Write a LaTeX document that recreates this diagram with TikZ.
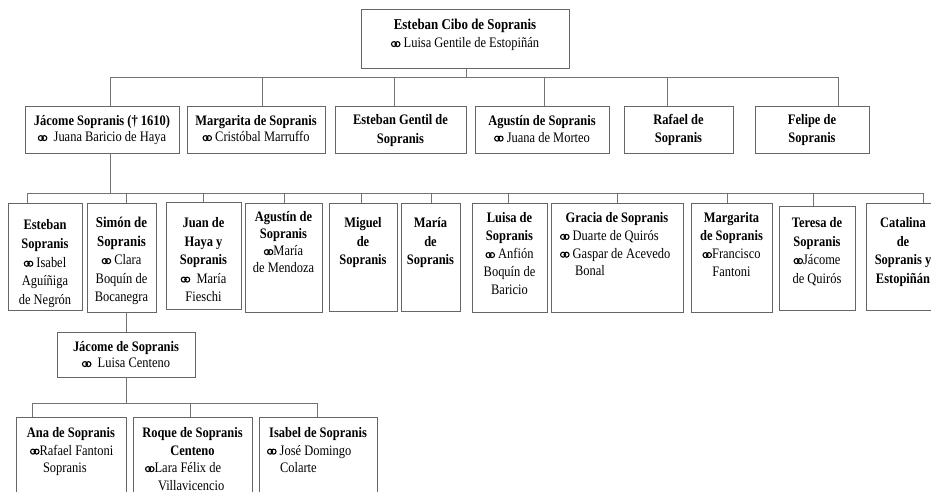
\documentclass[tikz,border=0pt]{standalone}
\usepackage{fontspec}
\setmainfont{Liberation Serif}[FakeStretch=0.86]
\newcommand\mar{\tikz[baseline=0pt]{\draw[black, line width=1.1pt] (2.6pt,3.4pt) circle[radius=2.5pt] (6.1pt,3.4pt) circle[radius=2.5pt];}}
\newcommand\lft[2]{\makebox[\linewidth][l]{\hspace{#1pt}#2}}
\newcommand\bx[8]{\node[bx] (#1) at ({(#2+#4)/2},{(#3+#5)/2}) {\parbox[c][\dimexpr#5pt-#3pt\relax][t]{\dimexpr#4pt-#2pt\relax}{\centering\fontsize{14.5}{#7}\selectfont\vspace*{\dimexpr#6pt-0.7\baselineskip\relax}\strut#8\par}};}
\newcommand\stem[3]{\coordinate (#1s) at ([xshift=#3pt]#1.north); \draw[con] (#1s) -- (#1s |- #2);}
\tikzset{
  bx/.style={draw=black!60, line width=0.8pt, inner sep=0pt, outer sep=0pt},
  con/.style={draw=black!55, line width=0.8pt}
}
\begin{document}
\begin{tikzpicture}[x=1pt,y=-1pt]
\useasboundingbox (0,0) rectangle (931,492);
\clip (0,0) rectangle (931,492);
\fill[white] (0,0) rectangle (931,492);
% level 1
\bx{top}{361}{9}{569}{68}{20.5}{18}{{\fontsize{15}{18}\selectfont\bfseries Esteban Cibo de Sopranis}\\\mar\ Luisa Gentile de Estopiñán}
% level 2
\bx{jac}{25}{106}{179}{153}{19.5}{16}{\textbf{Jácome Sopranis († 1610)}\\\mar\ \ Juana Baricio de Haya}
\bx{mar}{187}{106}{325}{153}{19.5}{16}{\textbf{Margarita de Sopranis}\\\mar\ Cristóbal Marruffo}
\bx{esg}{335}{106}{466}{153}{18.5}{18.5}{\textbf{Esteban Gentil de\\Sopranis}}
\bx{agu}{475}{106}{609}{153}{19.5}{16.5}{\textbf{Agustín de Sopranis}\\\mar\ Juana de Morteo}
\bx{raf}{624}{106}{733}{153}{18.5}{18}{\textbf{Rafael de\\Sopranis}}
\bx{fel}{755}{106}{869}{153}{18.5}{18}{\textbf{Felipe de\\Sopranis}}
% level 3
\bx{est}{8}{203}{82}{310}{26.5}{18.8}{\textbf{Esteban\\Sopranis}\\\mar\ Isabel\\Aguíñiga\\de Negrón}
\bx{sim}{87}{203}{156}{312}{24.5}{18.5}{{\fontsize{15}{18.5}\selectfont\bfseries Simón de\\Sopranis}\\\mar\ Clara\\Boquín de\\Bocanegra}
\bx{jua}{166}{202}{241}{309}{25.5}{18.5}{\textbf{Juan de\\Haya y\\Sopranis}\\\mar\ \ María\\Fieschi}
\bx{agd}{245}{203}{322}{312}{18.5}{17}{\textbf{Agustín de\\Sopranis}\\\mar María\\de Mendoza}
\bx{mig}{329}{203}{397}{311}{24.5}{18.5}{\textbf{Miguel\\de\\Sopranis}}
\bx{mri}{401}{203}{460}{311}{24.5}{18.5}{\textbf{María\\de\\Sopranis}}
\bx{lui}{472}{203}{547}{312}{19.5}{18}{\textbf{Luisa de\\Sopranis}\\\mar\ Anfión\\Boquín de\\Baricio}
\bx{gra}{551}{203}{683}{312}{19.5}{17.8}{\textbf{Gracia de Sopranis}\\\lft{9}{\mar\ Duarte de Quirós}\\\lft{9}{\mar\ Gaspar de Acevedo}\\\lft{24}{Bonal}}
\bx{mgs}{691}{203}{772}{312}{19.5}{18}{\textbf{Margarita\\de Sopranis}\\\mar Francisco\\Fantoni}
\bx{ter}{779}{206}{855}{310}{21.5}{18.5}{\textbf{Teresa de\\Sopranis}\\\mar Jácome\\de Quirós}
\bx{cat}{866}{203}{940}{310}{24.5}{18.5}{\textbf{Catalina\\de\\Sopranis y\\Estopiñán}}
% level 4
\bx{jcs}{57}{332}{195}{377}{19.5}{16}{\textbf{Jácome de Sopranis}\\\mar\ \ Luisa Centeno}
% level 5
\bx{ana}{16}{417}{126}{500}{20.5}{17.5}{\textbf{Ana de Sopranis}\\\lft{14}{\mar Rafael Fantoni}\\\lft{27}{Sopranis}}
\bx{roq}{133}{417}{252}{500}{20.5}{17.5}{\textbf{Roque de Sopranis\\Centeno}\\\lft{12}{\mar Lara Félix de}\\\lft{25}{Villavicencio}}
\bx{isa}{259}{417}{377}{500}{20.5}{17.5}{\textbf{Isabel de Sopranis}\\\lft{8}{\mar\ José Domingo}\\\lft{21}{Colarte}}
% buses
\coordinate (bus1) at (0,77);
\coordinate (bus2) at (0,193);
\coordinate (bus3) at (0,403);
% level 1 -> 2
\coordinate (topb) at ([xshift=1pt]top.south);
\draw[con] (topb) -- (topb |- bus1);
\stem{jac}{bus1}{8}
\stem{mar}{bus1}{6}
\stem{esg}{bus1}{-6.5}
\stem{agu}{bus1}{2}
\stem{raf}{bus1}{-11.5}
\stem{fel}{bus1}{26}
\draw[con] (jacs |- bus1) -- (fels |- bus1);
% level 2 -> 3
\coordinate (jacb) at ([xshift=8pt]jac.south);
\draw[con] (jacb) -- (jacb |- bus2);
\stem{est}{bus2}{-18}
\stem{sim}{bus2}{4.5}
\stem{jua}{bus2}{0}
\stem{agd}{bus2}{0.5}
\stem{mig}{bus2}{-2}
\stem{mri}{bus2}{0.5}
\stem{lui}{bus2}{-1.5}
\stem{gra}{bus2}{0}
\stem{mgs}{bus2}{-4.5}
\stem{ter}{bus2}{-4}
\stem{cat}{bus2}{20}
\draw[con] (ests |- bus2) -- (cats |- bus2);
% level 3 -> 4
\coordinate (simb) at ([xshift=4.5pt]sim.south);
\draw[con] (simb) -- (simb |- jcs.north);
% level 4 -> 5
\coordinate (jcsb) at (jcs.south);
\draw[con] (jcsb) -- (jcsb |- bus3);
\stem{ana}{bus3}{-39}
\stem{roq}{bus3}{-2.5}
\stem{isa}{bus3}{-1}
\draw[con] (anas |- bus3) -- (isas |- bus3);
\end{tikzpicture}
\end{document}
